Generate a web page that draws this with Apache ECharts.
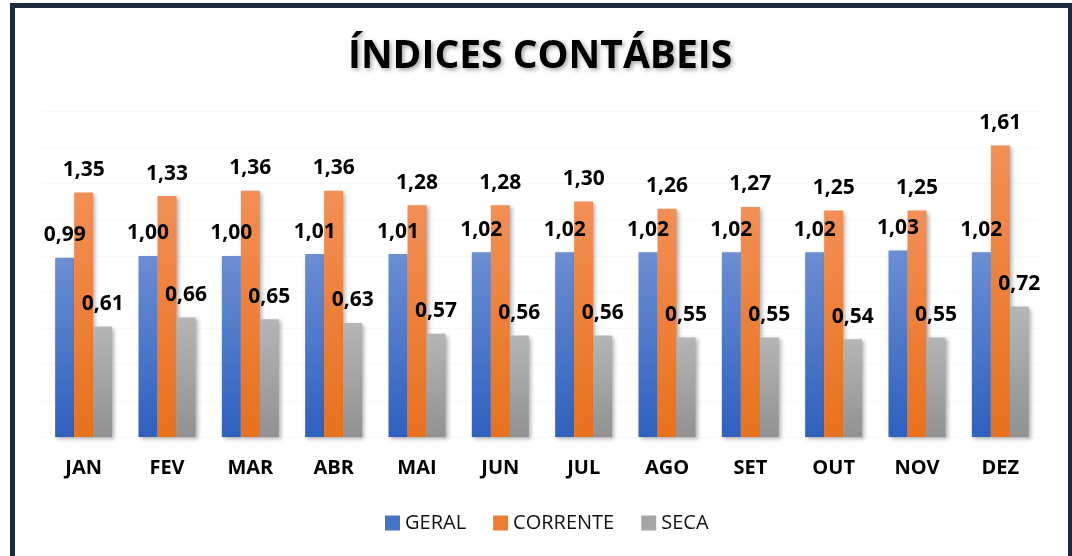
<!DOCTYPE html>
<html>
<head>
<meta charset="utf-8">
<script src="https://cdn.jsdelivr.net/npm/echarts@6/dist/echarts.min.js"></script>
<style>
html,body{margin:0;padding:0;background:#fff;}
#c{width:1072px;height:556px;}
</style>
</head>
<body>
<div id="c"></div>
<script>
const categories = ['JAN','FEV','MAR','ABR','MAI','JUN','JUL','AGO','SET','OUT','NOV','DEZ'];
const geral = [0.99,1.00,1.00,1.01,1.01,1.02,1.02,1.02,1.02,1.02,1.03,1.02];
const corrente = [1.35,1.33,1.36,1.36,1.28,1.28,1.30,1.26,1.27,1.25,1.25,1.61];
const seca = [0.61,0.66,0.65,0.63,0.57,0.56,0.56,0.55,0.55,0.54,0.55,0.72];
const titleText = 'ÍNDICES CONTÁBEIS';

const chart = echarts.init(document.getElementById('c'), null, {renderer:'canvas'});
function grad(top, bottom){
  return new echarts.graphic.LinearGradient(0,0,0,1,[{offset:0,color:top},{offset:1,color:bottom}]);
}
const labelCfg = {
  show:true, position:'top', distance:12, color:'#000',
  fontFamily:'Open Sans', fontWeight:'bold', fontSize:21,
  formatter: p => p.value.toFixed(2).replace('.',',')
};
function bar(name, data, top, bottom){
  return {
    name, type:'bar', data, barWidth:19, barGap:'0%',
    itemStyle:{color:grad(top,bottom), shadowBlur:4, shadowColor:'rgba(0,0,0,0.3)', shadowOffsetX:2, shadowOffsetY:2},
    label: labelCfg
  };
}
chart.setOption({
  animation:false,
  title:{
    text:titleText, left:343, top:32,
    textStyle:{fontFamily:'Open Sans', fontWeight:'bold', fontSize:39, color:'#000',
      textShadowColor:'rgba(0,0,0,0.35)', textShadowBlur:4, textShadowOffsetX:2, textShadowOffsetY:2}
  },
  legend:{
    left:380, top:508, itemWidth:15, itemHeight:15, itemGap:27, icon:'rect',
    textStyle:{fontFamily:'Open Sans', fontSize:20, color:'#111'},
    data:[
      {name:'GERAL', itemStyle:{color:'#4472c4'}},
      {name:'CORRENTE', itemStyle:{color:'#ed7d31'}},
      {name:'SECA', itemStyle:{color:'#a5a5a5'}}
    ]
  },
  grid:{left:42, right:30, top:111, bottom:119},
  xAxis:{
    type:'category', data:categories,
    axisLine:{show:false}, axisTick:{show:false},
    axisLabel:{margin:21, color:'#000', fontFamily:'Open Sans', fontWeight:'bold', fontSize:20}
  },
  yAxis:{
    type:'value', min:0, max:1.8, interval:0.2,
    axisLabel:{show:false}, axisLine:{show:false}, axisTick:{show:false},
    splitLine:{lineStyle:{color:'#f8f8f8', width:1}}
  },
  graphic:[{
    type:'rect', silent:true, z:100,
    shape:{x:12.5, y:5.5, width:1058, height:620},
    style:{fill:'none', stroke:'#1c2a3e', lineWidth:5}
  }],
  series:[
    bar('GERAL', geral, '#6b8ed3', '#2f60be'),
    bar('CORRENTE', corrente, '#f28f55', '#e8711d'),
    bar('SECA', seca, '#b5b5b5', '#919191')
  ]
});
</script>
</body>
</html>
